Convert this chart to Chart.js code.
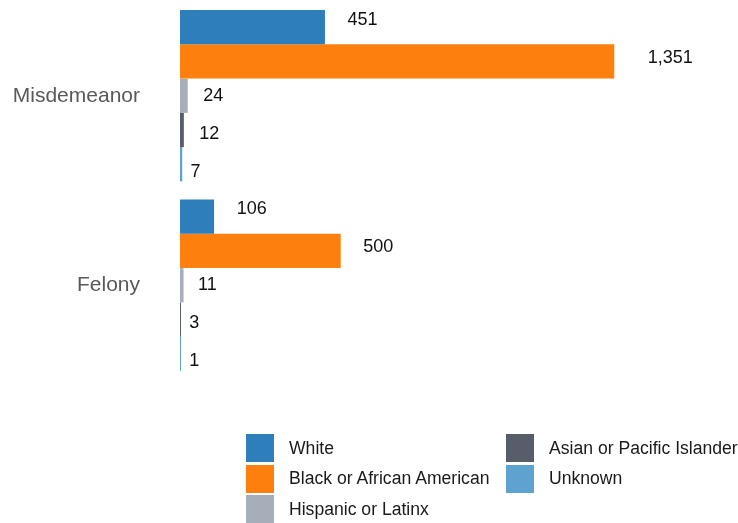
<!DOCTYPE html>
<html>
<head>
<meta charset="utf-8">
<script src="https://cdn.jsdelivr.net/npm/chart.js@4"></script>
<style>
	html, body { margin: 0; padding: 0; background: #fff; }
	#wrap { position: relative; width: 738px; height: 523px; }
	#legend { position: absolute; left: 246px; top: 434px; width: 492px; height: 90px; }
	.legend-item { position: absolute; display: flex; align-items: center; height: 28px; font: 17.6px "Liberation Sans", Arial, sans-serif; color: #1a1a1a; white-space: nowrap; }
	.legend-item span.box { width: 28px; height: 28px; margin-right: 15px; }
</style>
</head>
<body>
<div id="wrap">
	<canvas id="offenseChart" width="738" height="523"></canvas>
	<div id="legend"></div>
</div>
<script>
const categories = ['Misdemeanor', 'Felony'];
const seriesNames = [
	'White',
	'Black or African American',
	'Hispanic or Latinx',
	'Asian or Pacific Islander',
	'Unknown',
];
const whiteValues = [451, 106];
const blackValues = [1351, 500];
const hispanicValues = [24, 11];
const asianValues = [12, 3];
const unknownValues = [7, 1];
const seriesColors = ['#2e7ebb', '#fd7f0e', '#a6aeb9', '#565d6b', '#5ea3d0'];
const xMax = 1736;

const valueSets = [whiteValues, blackValues, hispanicValues, asianValues, unknownValues];

// value labels drawn next to each bar end, spread over the full category band
const barLabels = {
	id: 'barLabels',
	afterDatasetsDraw(chart) {
		const ctx = chart.ctx;
		const yScale = chart.scales.y;
		const catPct = chart.options.datasets.bar.categoryPercentage;
		ctx.save();
		ctx.font = '18px "Liberation Sans", Arial, sans-serif';
		ctx.fillStyle = '#111';
		ctx.textBaseline = 'middle';
		ctx.textAlign = 'left';
		chart.data.datasets.forEach((ds, di) => {
			chart.getDatasetMeta(di).data.forEach((bar, i) => {
				const text = ds.data[i].toLocaleString('en-US');
				const w = ctx.measureText(text).width;
				const center = yScale.getPixelForValue(i);
				const y = center + (bar.y - center) / catPct;
				ctx.fillText(text, bar.x + 0.72 * w + 1, y);
			});
		});
		ctx.restore();
	},
};

const chart = new Chart(document.getElementById('offenseChart').getContext('2d'), {
	type: 'bar',
	data: {
		labels: categories,
		datasets: seriesNames.map((name, i) => ({
			label: name,
			data: valueSets[i],
			backgroundColor: seriesColors[i],
			borderWidth: 0,
			minBarLength: 1,
		})),
	},
	options: {
		indexAxis: 'y',
		responsive: false,
		animation: false,
		datasets: {
			bar: {
				categoryPercentage: 0.905,
				barPercentage: 1,
			},
		},
		layout: {
			padding: { top: 1, bottom: 143, left: 0, right: 0 },
		},
		scales: {
			x: {
				display: false,
				min: 0,
				max: xMax,
			},
			y: {
				grid: { display: false, drawTicks: false },
				border: { display: false },
				ticks: {
					padding: 40,
					color: '#595959',
					font: { family: '"Liberation Sans", Arial, sans-serif', size: 21 },
				},
				afterFit(scale) {
					// fixed gutter for the category names, no extra vertical margin
					scale.width = 180;
					scale.paddingTop = 0;
					scale.paddingBottom = 0;
				},
			},
		},
		plugins: {
			legend: { display: false },
			tooltip: { enabled: false },
		},
	},
	plugins: [barLabels],
});

// two-column legend, filled column by column
const legendEl = document.getElementById('legend');
chart.data.datasets.forEach((ds, i) => {
	const item = document.createElement('div');
	item.className = 'legend-item';
	item.style.left = (i < 3 ? 0 : 260) + 'px';
	item.style.top = (i % 3) * 30.5 + 'px';
	const box = document.createElement('span');
	box.className = 'box';
	box.style.background = ds.backgroundColor;
	item.appendChild(box);
	item.appendChild(document.createTextNode(ds.label));
	legendEl.appendChild(item);
});
</script>
</body>
</html>
